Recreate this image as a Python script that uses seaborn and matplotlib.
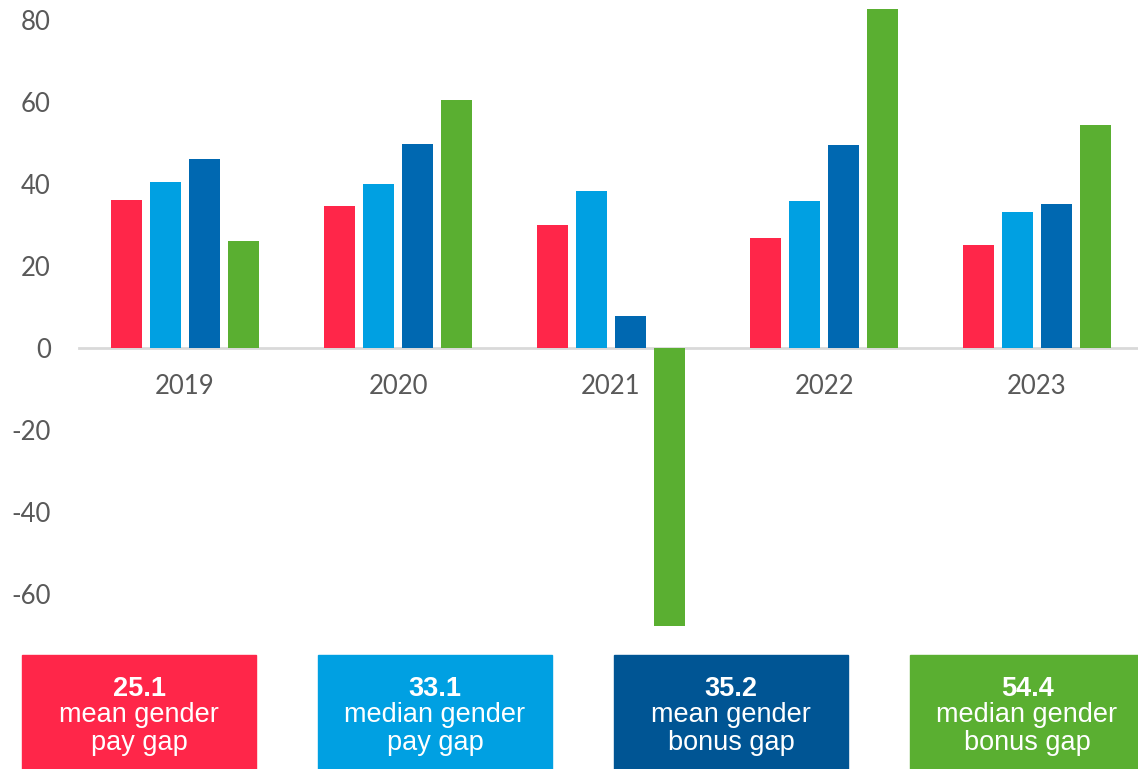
import matplotlib
matplotlib.use("Agg")
import matplotlib.pyplot as plt
import seaborn as sns
import pandas as pd
from matplotlib.patches import Rectangle

years = ["2019", "2020", "2021", "2022", "2023"]
mean_pay_gap = [36.1, 34.6, 30.1, 26.8, 25.1]
median_pay_gap = [40.5, 39.9, 38.4, 35.9, 33.1]
mean_bonus_gap = [46.1, 49.8, 7.8, 49.5, 35.2]
median_bonus_gap = [26.1, 60.6, -67.7, 82.7, 54.4]

series_names = ["mean gender pay gap", "median gender pay gap",
                "mean gender bonus gap", "median gender bonus gap"]
box_labels = ["mean gender\npay gap", "median gender\npay gap",
              "mean gender\nbonus gap", "median gender\nbonus gap"]
y_ticks = [-60, -40, -20, 0, 20, 40, 60, 80]

bar_colors = ["#FF2649", "#00A0E2", "#0068B1", "#5AAF31"]
box_colors = ["#FF2649", "#00A0E2", "#005594", "#5AAF31"]

series_values = [mean_pay_gap, median_pay_gap, mean_bonus_gap, median_bonus_gap]
rows = []
for name, vals in zip(series_names, series_values):
    for y, v in zip(years, vals):
        rows.append({"year": y, "metric": name, "value": v})
df = pd.DataFrame(rows)

sns.set_theme(style="white")
plt.rcParams["font.family"] = ["Lato", "DejaVu Sans"]

W, H = 1138, 769
fig = plt.figure(figsize=(W / 100, H / 100), dpi=100)

# axes placement: zero line at y=348px, 80 at y=20px
px_per_unit = (348 - 20) / 80.0
ymax = 348 / px_per_unit
ax_bottom_px = 638
ymin = -(ax_bottom_px - 348) / px_per_unit
left_px, right_px = 78.5, 1143.5
ax = fig.add_axes([left_px / W, 1 - ax_bottom_px / H,
                   (right_px - left_px) / W, ax_bottom_px / H])

sns.barplot(data=df, x="year", y="value", hue="metric", order=years,
            hue_order=series_names, palette=bar_colors, width=0.73, gap=0.2,
            ax=ax, legend=False, edgecolor="none", linewidth=0, saturation=1)

ax.set_ylim(ymin, ymax)
ax.set_xlim(-0.5, 4.5)
ax.set_yticks(y_ticks)
ax.set_yticklabels([str(t) for t in y_ticks])
ax.set_xlabel("")
ax.set_ylabel("")
for s in ["top", "right", "left"]:
    ax.spines[s].set_visible(False)
ax.spines["bottom"].set_position(("data", 0))
ax.spines["bottom"].set_color("#D9D9D9")
ax.spines["bottom"].set_linewidth(2)
ax.spines["bottom"].set_zorder(0.5)
ax.tick_params(axis="y", length=0, pad=20, labelsize=18.5, labelcolor="#595959")
ax.tick_params(axis="x", length=0, pad=19, labelsize=18.5, labelcolor="#595959")
ax.set_facecolor("none")

# summary boxes (latest year values)
box_x = [22, 318, 614, 910]
box_w = 234
box_top = 655
latest = [vals[-1] for vals in series_values]
for bx, col, val, lab in zip(box_x, box_colors, latest, box_labels):
    fig.patches.append(Rectangle((bx / W, 0), box_w / W, (H - box_top) / H,
                                 transform=fig.transFigure, color=col, zorder=0))
    cx = (bx + box_w / 2) / W
    fig.text(cx, 1 - 689 / H, f"{val:.1f}", ha="center", va="center",
             color="white", fontsize=19.5, fontweight="bold",
             family=["Liberation Sans", "DejaVu Sans"])
    fig.text(cx, 1 - 729 / H, lab, ha="center", va="center",
             color="white", fontsize=19.5, linespacing=1.05,
             family=["Liberation Sans", "DejaVu Sans"])

fig.savefig("out.png", dpi=100)
